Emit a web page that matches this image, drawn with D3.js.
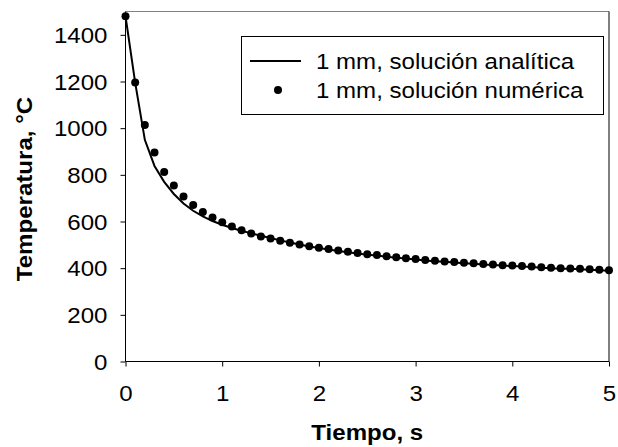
<!DOCTYPE html>
<html>
<head>
<meta charset="utf-8">
<script src="https://cdn.jsdelivr.net/npm/d3@7"></script>
<style>
    body { margin: 0; background: #fff; }
    text { font-family: "Liberation Sans", Arial, sans-serif; fill: #000; }
</style>
</head>
<body>
<svg id="chart" width="618" height="447"></svg>
<script>
// time steps, seconds
const tiempo = d3.range(51).map(i => +(i / 10).toFixed(1));

// 1 mm, analytical solution
const analitica = [1480, 1195, 950, 838, 770, 718, 677, 646, 622, 602,
    586, 572, 560, 549, 539, 529, 519, 510, 501, 493,
    486, 480, 474, 468, 463, 458, 454, 449, 445, 441,
    437, 433, 430, 427, 424, 421, 419, 416, 414, 411,
    409, 407, 405, 402, 400, 398, 397, 395, 393, 391, 389];

// 1 mm, numerical solution
const numerica = [1480, 1196, 1014, 896, 812, 754, 707, 671, 641, 617,
    597, 579, 563, 549, 536, 527, 518, 509, 501, 494,
    488, 482, 476, 470, 465, 460, 456, 451, 447, 443,
    439, 435, 432, 429, 426, 423, 421, 418, 416, 413,
    411, 409, 407, 404, 402, 400, 399, 397, 395, 393, 391];

const xTicks = [0, 1, 2, 3, 4, 5];
const yTicks = [0, 200, 400, 600, 800, 1000, 1200, 1400];
const legendLabels = ["1 mm, solución analítica", "1 mm, solución numérica"];

const svg = d3.select("#chart");
const pLeft = 125.5, pRight = 609, pTop = 11.5, pBottom = 361.5;
const sx = 1.12; // the source font is wider than Arial

const x = d3.scaleLinear().domain([0, 5]).range([pLeft, pRight]);
const y = d3.scaleLinear().domain([0, 1500]).range([pBottom, pTop]);

//frame: grey top, black right
svg.append("line").attr("x1", pLeft).attr("x2", pRight).attr("y1", pTop).attr("y2", pTop)
    .attr("stroke", "#808080").attr("stroke-width", 1);
svg.append("line").attr("x1", pRight).attr("x2", pRight).attr("y1", pTop).attr("y2", pBottom)
    .attr("stroke", "#000").attr("stroke-width", 1);

//axes
const xAxis = svg.append("g")
    .attr("transform", `translate(0,${pBottom})`)
    .call(d3.axisBottom(x).tickValues(xTicks).tickFormat(d3.format("d"))
        .tickSize(5).tickSizeOuter(0));
xAxis.selectAll("text")
    .attr("y", 40).attr("dy", 0)
    .attr("font-size", 21.5)
    .attr("transform", `scale(${sx},1)`);

const yAxis = svg.append("g")
    .attr("transform", `translate(${pLeft},0)`)
    .call(d3.axisLeft(y).tickValues(yTicks).tickFormat(d3.format("d"))
        .tickSize(5).tickSizeOuter(0));
yAxis.selectAll("text")
    .attr("x", -18 / sx).attr("dy", "0.35em")
    .attr("font-size", 21.5)
    .attr("transform", `scale(${sx},1)`);

svg.selectAll(".domain, .tick line").attr("stroke", "#000").attr("stroke-width", 1);
yAxis.select(".domain").attr("d", `M0,${pTop}V${pBottom}`);
xAxis.select(".domain").attr("d", `M${pLeft},0H${pRight}`);

//axis titles
svg.append("text")
    .attr("transform", `translate(${(pLeft + pRight) / 2},440) scale(${sx},1)`)
    .attr("text-anchor", "middle")
    .attr("font-size", 21.5).attr("font-weight", "bold")
    .text("Tiempo, s");

svg.append("text")
    .attr("transform", `translate(32,189) rotate(-90) scale(${sx},1)`)
    .attr("text-anchor", "middle")
    .attr("font-size", 21.5).attr("font-weight", "bold")
    .text("Temperatura, °C");

//analytical line
const line = d3.line()
    .x((d, i) => x(tiempo[i]))
    .y(d => y(d));

svg.append("path")
    .datum(analitica)
    .attr("d", line)
    .attr("fill", "none")
    .attr("stroke", "#000")
    .attr("stroke-width", 2);

//numerical points
svg.append("g").selectAll("circle")
    .data(numerica)
    .enter()
    .append("circle")
    .attr("cx", (d, i) => x(tiempo[i]))
    .attr("cy", d => y(d))
    .attr("r", 4)
    .attr("fill", "#000");

//legend
const legend = svg.append("g");
legend.append("rect")
    .attr("x", 241.5).attr("y", 36.5).attr("width", 362).attr("height", 78)
    .attr("fill", "#fff").attr("stroke", "#000").attr("stroke-width", 1);
legend.append("line")
    .attr("x1", 250).attr("x2", 301).attr("y1", 61).attr("y2", 61)
    .attr("stroke", "#000").attr("stroke-width", 2);
legend.append("circle")
    .attr("cx", 278).attr("cy", 90).attr("r", 4).attr("fill", "#000");
legend.selectAll("text.lab")
    .data(legendLabels)
    .enter()
    .append("text")
    .attr("class", "lab")
    .attr("transform", (d, i) => `translate(316,${61 + i * 29}) scale(${sx},1)`)
    .attr("dy", "0.35em")
    .attr("font-size", 21.5)
    .text(d => d);
</script>
</body>
</html>
